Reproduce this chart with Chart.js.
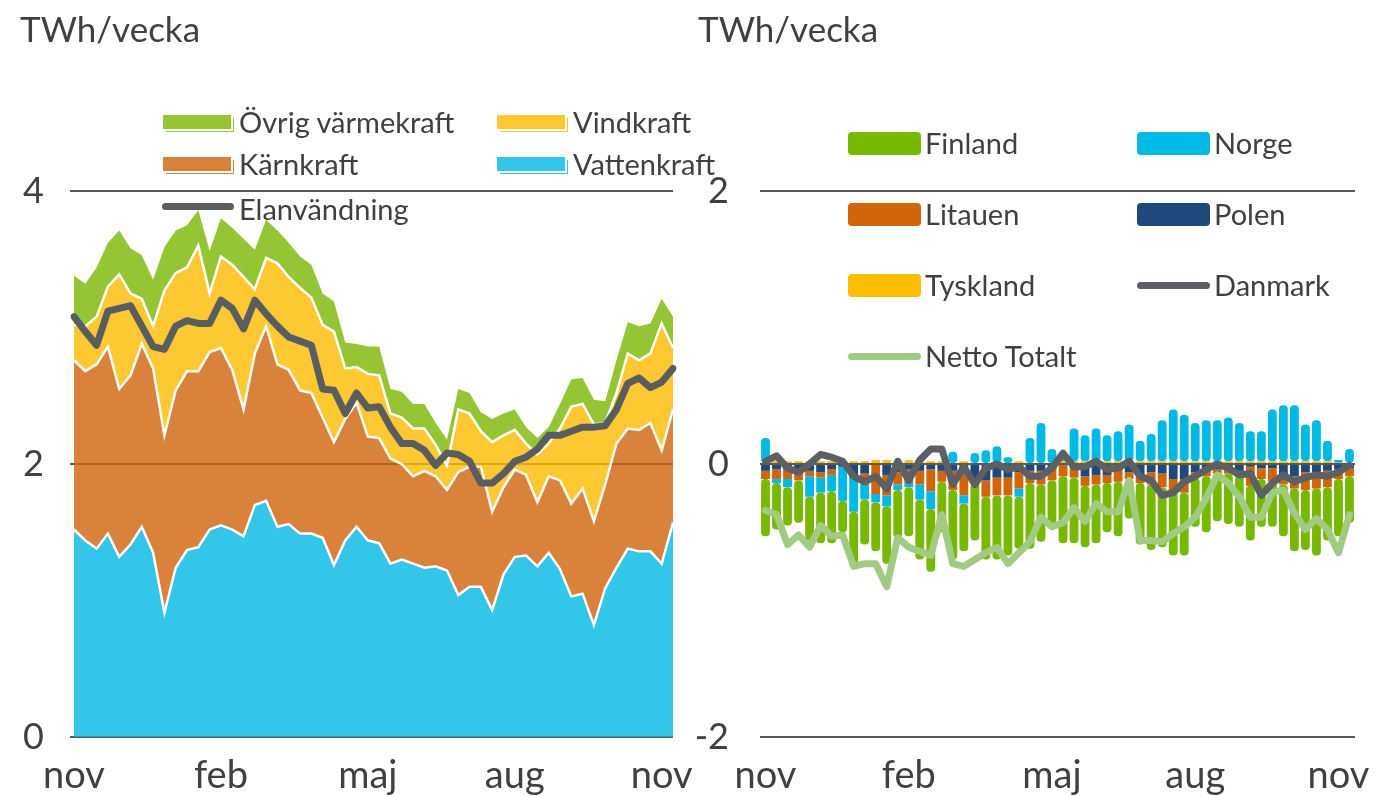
<!DOCTYPE html>
<html>
<head>
<meta charset="utf-8">
<script src="https://cdn.jsdelivr.net/npm/chart.js@4.4.0/dist/chart.umd.min.js"></script>
<style>
  body { margin: 0; background: #fff; font-family: Lato, sans-serif; color: #404040; }
  #wrap { position: relative; width: 1377px; height: 796px; overflow: hidden; }
  canvas { position: absolute; top: 0; }
  .titel { position: absolute; top: 7px; font-size: 35px; }
  .leg { position: absolute; font-size: 29px; line-height: 30px; white-space: nowrap; }
  .yta { position: absolute; width: 68px; height: 14px; }
  .linje { position: absolute; height: 7px; border-radius: 4px; }
  .ruta { position: absolute; width: 73px; height: 23px; border-radius: 4px; }
</style>
</head>
<body>
<div id="wrap">
  <canvas id="vanster" width="710" height="796" style="left:0"></canvas>
  <canvas id="hoger" width="687" height="796" style="left:690px"></canvas>

  <div class="titel" style="left:20px">TWh/vecka</div>
  <div class="titel" style="left:698px">TWh/vecka</div>

  <!-- legend vänster -->
  <div class="yta" style="left:163px;top:115px;background:#95c534;box-shadow:2px 2px 0 0 #fff,3px 3px 0 0 #95c534"></div>
  <div class="leg" style="left:239px;top:107px">Övrig värmekraft</div>
  <div class="yta" style="left:497px;top:115px;background:#fec832;box-shadow:2px 2px 0 0 #fff,3px 3px 0 0 #fec832"></div>
  <div class="leg" style="left:573px;top:107px">Vindkraft</div>
  <div class="yta" style="left:163px;top:157px;background:#d9823b;box-shadow:2px 2px 0 0 #fff,3px 3px 0 0 #d9823b"></div>
  <div class="leg" style="left:239px;top:149px">Kärnkraft</div>
  <div class="yta" style="left:497px;top:157px;background:#34c6e9;box-shadow:2px 2px 0 0 #fff,3px 3px 0 0 #34c6e9"></div>
  <div class="leg" style="left:573px;top:149px">Vattenkraft</div>
  <div class="linje" style="left:162px;top:203px;width:72px;background:#5a5d60"></div>
  <div class="leg" style="left:239px;top:194px">Elanvändning</div>

  <!-- legend höger -->
  <div class="ruta" style="left:848px;top:132px;background:#77b800"></div>
  <div class="leg" style="left:925px;top:128px">Finland</div>
  <div class="ruta" style="left:1137px;top:132px;background:#00b9e4"></div>
  <div class="leg" style="left:1214px;top:128px">Norge</div>
  <div class="ruta" style="left:848px;top:203px;background:#d1650a"></div>
  <div class="leg" style="left:925px;top:199px">Litauen</div>
  <div class="ruta" style="left:1137px;top:203px;background:#1f497d"></div>
  <div class="leg" style="left:1214px;top:199px">Polen</div>
  <div class="ruta" style="left:848px;top:274px;background:#ffbd00"></div>
  <div class="leg" style="left:925px;top:270px">Tyskland</div>
  <div class="linje" style="left:1137px;top:282px;width:73px;background:#5c6064"></div>
  <div class="leg" style="left:1214px;top:270px">Danmark</div>
  <div class="linje" style="left:848px;top:353px;width:73px;background:#a1ca82"></div>
  <div class="leg" style="left:925px;top:341px">Netto Totalt</div>
</div>

<script>
// Månadsetiketter på x-axeln (var 13:e vecka)
var manader = ['nov', 'feb', 'maj', 'aug', 'nov'];
var antalVeckor = 54;
var veckor = [];
for (var i = 0; i < antalVeckor; i++) {
  veckor.push(i % 13 === 0 ? manader[i / 13] : '');
}

// Vänster diagram: produktion, TWh/vecka
var vattenkraft = [1.52,1.44,1.38,1.49,1.32,1.41,1.54,1.35,0.91,1.24, 1.37,1.39,1.52,1.55,1.52,1.47,1.70,1.73,1.54,1.56,
  1.49,1.49,1.46,1.26,1.44,1.54,1.44,1.42,1.27,1.30, 1.27,1.24,1.25,1.22,1.04,1.10,1.10,0.93,1.19,1.32,
  1.33,1.25,1.35,1.23,1.03,1.05,0.82,1.09,1.24,1.38, 1.36,1.36,1.27,1.57];
var karnkraft = [1.24,1.24,1.35,1.37,1.23,1.24,1.34,1.35,1.30,1.30, 1.31,1.29,1.30,1.30,1.17,0.93,1.11,1.28,1.19,1.13,
  1.05,1.03,0.88,0.90,0.89,0.91,0.76,0.77,0.77,0.70, 0.64,0.71,0.66,0.59,0.90,0.88,0.88,0.72,0.64,0.64,
  0.59,0.47,0.56,0.65,0.68,0.77,0.76,0.76,0.91,0.88, 0.89,0.94,0.83,0.83];
var vindkraft = [0.26,0.33,0.35,0.44,0.84,0.60,0.33,0.31,1.06,0.86, 0.76,0.92,0.43,0.67,0.77,0.97,0.47,0.50,0.74,0.68,
  0.75,0.70,0.68,0.81,0.37,0.26,0.46,0.46,0.33,0.34, 0.35,0.31,0.23,0.18,0.46,0.39,0.26,0.51,0.38,0.29,
  0.23,0.35,0.24,0.38,0.71,0.62,0.71,0.45,0.37,0.55, 0.51,0.51,0.93,0.45];
var ovrigVarme = [0.36,0.31,0.36,0.32,0.32,0.33,0.32,0.34,0.32,0.31, 0.31,0.26,0.31,0.28,0.27,0.28,0.29,0.28,0.24,0.25,
  0.23,0.24,0.23,0.22,0.19,0.17,0.20,0.21,0.18,0.19, 0.18,0.18,0.16,0.19,0.15,0.15,0.14,0.17,0.16,0.15,
  0.12,0.12,0.12,0.18,0.20,0.19,0.18,0.16,0.24,0.23, 0.25,0.22,0.18,0.23];
var elanvandning = [3.08,2.97,2.87,3.12,3.14,3.16,3.01,2.86,2.84,3.01, 3.05,3.03,3.03,3.20,3.14,2.99,3.20,3.10,3.01,2.93,
  2.90,2.87,2.55,2.54,2.37,2.52,2.41,2.42,2.27,2.15, 2.15,2.10,1.99,2.08,2.07,2.02,1.86,1.86,1.93,2.02,
  2.05,2.11,2.21,2.21,2.24,2.27,2.27,2.28,2.40,2.59, 2.63,2.56,2.60,2.70];
var vansterTicks = [0, 2, 4];

// Höger diagram: nettoutbyte per land, TWh/vecka
var tyskland = [0,0.02,0.02,0.02,0.02,0.02,0.02,0.02,0.02,0.02, 0.03,0.03,0.02,0.03,0.02,0.02,0.02,0,0.02,0,
  0,0,0,0.02,0,0,0,0.02,0.02,0.02, 0.02,0.02,0.02,0.02,0.02,0.02,0.02,0.02,0.02,0.02,
  0.02,0.02,0.02,0.02,0.02,0.02,0.02,0.02,0.02,0.02, 0.02,0.02,0.01,0.01];
var polen = [-0.05,-0.04,-0.04,-0.05,-0.05,-0.06,-0.04,-0.02,-0.10,-0.07, 0,-0.08,-0.06,-0.04,-0.05,-0.04,-0.05,-0.05,-0.04,-0.12,
  -0.12,-0.10,-0.10,-0.06,-0.05,-0.05,-0.04,0,-0.02,-0.09, -0.08,-0.08,-0.05,-0.06,-0.08,-0.06,-0.07,-0.11,-0.11,-0.06,
  -0.05,-0.04,-0.04,-0.05,-0.02,-0.03,-0.03,-0.09,-0.09,-0.06, -0.06,-0.05,-0.04,-0.03];
var litauen = [-0.06,-0.07,-0.07,-0.07,-0.04,-0.04,-0.04,0,0,-0.06, -0.22,-0.15,-0.09,-0.10,-0.10,-0.16,-0.08,-0.14,-0.19,-0.02,
  -0.12,-0.13,-0.13,-0.12,-0.09,-0.10,-0.08,-0.09,-0.08,-0.07, -0.07,-0.06,-0.08,-0.05,-0.06,-0.09,-0.10,-0.09,-0.10,-0.04,
  -0.04,-0.03,-0.03,-0.04,-0.14,-0.08,-0.10,-0.06,-0.09,-0.13, -0.12,-0.12,-0.07,-0.06];
var norge = [0.19,-0.03,-0.06,0,-0.15,-0.11,-0.12,-0.25,-0.25,-0.13, -0.06,-0.08,-0.04,-0.03,-0.11,-0.13,0,0.09,-0.06,0.08,
  0.10,0.13,0.05,-0.06,0.19,0.30,0.11,0.03,0.24,0.19, 0.24,0.19,0.22,0.27,0.15,0.20,0.30,0.38,0.34,0.28,
  0.30,0.30,0.32,0.28,0.22,0.22,0.38,0.41,0.41,0.27, 0.30,0.15,0.02,0.10];
var finland = [-0.42,-0.34,-0.28,-0.31,-0.32,-0.37,-0.38,-0.23,-0.40,-0.33, -0.36,-0.42,-0.35,-0.36,-0.44,-0.46,-0.37,-0.51,-0.35,-0.42,
  -0.46,-0.47,-0.44,-0.38,-0.48,-0.42,-0.35,-0.49,-0.48,-0.45, -0.43,-0.36,-0.40,-0.29,-0.45,-0.48,-0.44,-0.47,-0.46,-0.36,
  -0.41,-0.35,-0.37,-0.37,-0.40,-0.35,-0.33,-0.38,-0.46,-0.44, -0.49,-0.39,-0.42,-0.34];
var danmark = [0.02,0.06,-0.03,-0.06,0.00,0.07,0.05,0.02,-0.09,-0.13, -0.09,-0.18,0.02,-0.12,0.03,0.11,0.11,-0.15,-0.02,-0.15,
  -0.03,0.00,-0.04,-0.02,-0.09,-0.09,-0.03,0.08,-0.02,-0.02, 0.02,-0.04,-0.03,0.02,-0.09,-0.12,-0.23,-0.21,-0.13,-0.09,
  -0.04,0.00,-0.03,-0.08,-0.07,-0.23,-0.14,-0.08,-0.13,-0.10, -0.08,-0.09,-0.06,-0.01];
var nettoTotalt = [-0.34,-0.37,-0.59,-0.52,-0.61,-0.45,-0.53,-0.52,-0.75,-0.73, -0.73,-0.90,-0.54,-0.61,-0.64,-0.67,-0.37,-0.73,-0.75,-0.70,
  -0.65,-0.61,-0.73,-0.65,-0.57,-0.39,-0.46,-0.43,-0.32,-0.42, -0.29,-0.35,-0.35,-0.12,-0.56,-0.56,-0.57,-0.51,-0.46,-0.39,
  -0.25,-0.08,-0.14,-0.24,-0.39,-0.39,-0.21,-0.19,-0.36,-0.48, -0.40,-0.48,-0.65,-0.37];
var hogerTicks = [-2, 0, 2];

var textFarg = '#404040';
var tickFont = { family: 'Lato', size: 36 };

function xAxel() {
  return {
    grid: { display: false },
    border: { display: false },
    ticks: {
      autoSkip: false, maxRotation: 0, padding: 8,
      color: textFarg, font: { family: 'Lato', size: 38 },
      callback: function (v) { return this.getLabelForValue(v); }
    },
    afterFit: function (s) { s.height = 59; }
  };
}

// Vänster: staplade ytor
var ctx1 = document.getElementById('vanster').getContext('2d');
new Chart(ctx1, {
  type: 'line',
  data: {
    labels: veckor,
    datasets: [
      { label: 'Vattenkraft', data: vattenkraft, fill: 'origin', backgroundColor: 'rgba(1,184,227,0.8)', borderColor: '#fff', borderWidth: 2.5 },
      { label: 'Kärnkraft', data: karnkraft, fill: '-1', backgroundColor: 'rgba(207,99,10,0.8)', borderColor: '#fff', borderWidth: 2.5 },
      { label: 'Vindkraft', data: vindkraft, fill: '-1', backgroundColor: 'rgba(254,186,0,0.8)', borderColor: '#fff', borderWidth: 2.5 },
      { label: 'Övrig värmekraft', data: ovrigVarme, fill: '-1', backgroundColor: 'rgba(122,183,1,0.8)', borderWidth: 0 },
      { label: 'Elanvändning', data: elanvandning, stack: 'el', order: -1, fill: false, borderColor: '#5a5d60', borderWidth: 7, borderCapStyle: 'round', borderJoinStyle: 'round' }
    ]
  },
  options: {
    responsive: false,
    animation: false,
    layout: { padding: { top: 191, right: 37, left: 0, bottom: 0 } },
    plugins: { legend: { display: false }, tooltip: { enabled: false } },
    elements: { point: { radius: 0 }, line: { tension: 0 } },
    scales: {
      x: xAxel(),
      y: {
        stacked: true, min: 0, max: 4,
        afterBuildTicks: function (s) { s.ticks = vansterTicks.map(function (v) { return { value: v }; }); },
        ticks: { padding: 26, color: textFarg, font: tickFont },
        grid: { color: '#595959', lineWidth: 2, tickLength: 4 },
        border: { display: false },
        afterFit: function (s) { s.width = 74; }
      }
    }
  }
});

// Höger: staplar per land + linjer
var ctx2 = document.getElementById('hoger').getContext('2d');
var stapel = { stack: 'land', barPercentage: 0.8, categoryPercentage: 1, borderRadius: 4, borderSkipped: false, borderWidth: 0 };
new Chart(ctx2, {
  type: 'bar',
  data: {
    labels: veckor,
    datasets: [
      Object.assign({ label: 'Tyskland', data: tyskland, backgroundColor: '#ffbd00' }, stapel),
      Object.assign({ label: 'Polen', data: polen, backgroundColor: '#1f497d' }, stapel),
      Object.assign({ label: 'Litauen', data: litauen, backgroundColor: '#d1650a' }, stapel),
      Object.assign({ label: 'Norge', data: norge, backgroundColor: '#00b9e4' }, stapel),
      Object.assign({ label: 'Finland', data: finland, backgroundColor: '#77b800' }, stapel),
      { type: 'line', label: 'Danmark', data: danmark, stack: 'dk', order: -2, borderColor: '#5c6064', borderWidth: 7, pointRadius: 0, tension: 0, borderCapStyle: 'round', borderJoinStyle: 'round' },
      { type: 'line', label: 'Netto Totalt', data: nettoTotalt, stack: 'netto', order: -1, borderColor: '#a1ca82', borderWidth: 7, pointRadius: 0, tension: 0, borderCapStyle: 'round', borderJoinStyle: 'round' }
    ]
  },
  options: {
    responsive: false,
    animation: false,
    layout: { padding: { top: 191, right: 22, left: 0, bottom: 0 } },
    plugins: { legend: { display: false }, tooltip: { enabled: false } },
    scales: {
      x: Object.assign(xAxel(), { stacked: true }),
      y: {
        stacked: true, min: -2, max: 2,
        afterBuildTicks: function (s) { s.ticks = hogerTicks.map(function (v) { return { value: v }; }); },
        ticks: { padding: 31, color: textFarg, font: tickFont },
        grid: { color: '#595959', lineWidth: 2, drawTicks: false },
        border: { display: false },
        afterFit: function (s) { s.width = 70; }
      }
    }
  }
});
</script>
</body>
</html>
